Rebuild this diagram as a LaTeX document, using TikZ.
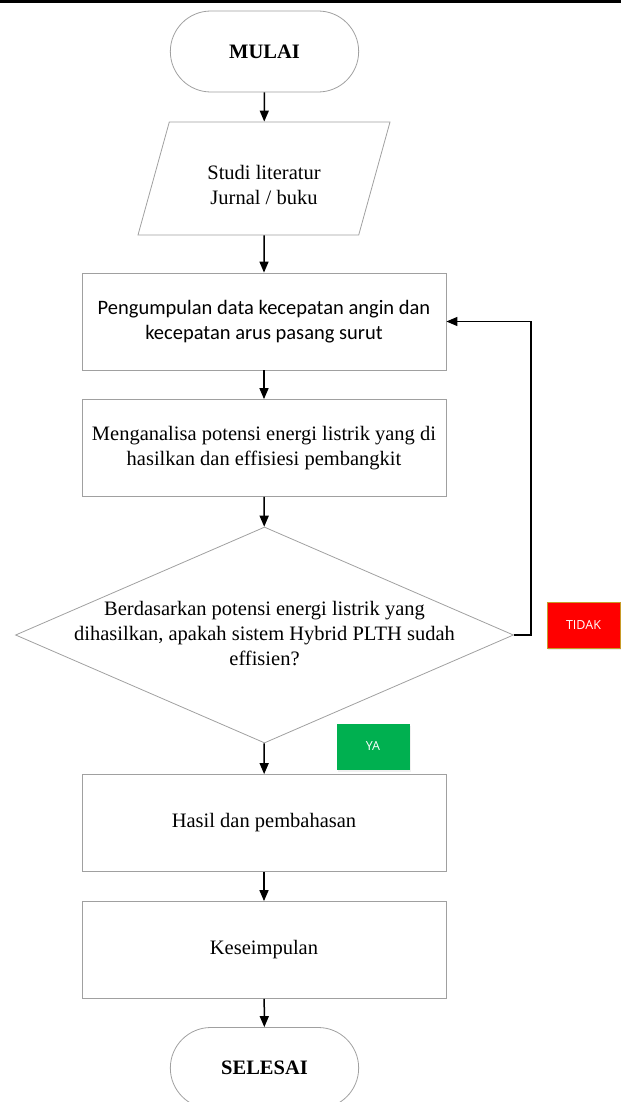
\documentclass[tikz,border=0pt]{standalone}
\usepackage{fontspec}
\setmainfont{Liberation Serif}
\newfontfamily\calibri{Carlito}
\newfontfamily\labelfont{Open Sans}
\usetikzlibrary{shapes.geometric,shapes.misc,arrows.meta,shadows}

\definecolor{garis}{RGB}{160,160,160}
\definecolor{tidakred}{RGB}{255,0,0}
\definecolor{tidakgold}{RGB}{200,155,40}
\definecolor{yagreen}{RGB}{0,176,80}

\begin{document}
\begin{tikzpicture}[x=1pt,y=-1pt,
  >={Triangle[length=11pt,width=9pt]},
  every node/.style={font=\fontsize{20.5}{25}\selectfont, align=center},
  terminal/.style={rounded rectangle, draw=garis, line width=0.8pt,
    minimum width=195pt, minimum height=81pt,
    font=\fontsize{20.5}{25}\selectfont\bfseries},
  proses/.style={rectangle, draw=garis, line width=0.8pt,
    minimum width=364pt, minimum height=97pt},
  masukan/.style={trapezium, trapezium left angle=62, trapezium right angle=118,
    trapezium stretches body, draw=garis, line width=0.8pt,
    minimum width=252pt, minimum height=113pt},
  keputusan/.style={diamond, draw=garis, line width=0.8pt, inner sep=0pt,
    minimum width=498pt, minimum height=216pt},
  pilihan/.style={rectangle, text=white, minimum width=73pt, minimum height=46pt,
    font=\labelfont\fontsize{12.5}{15}\selectfont},
  alur/.style={->, line width=1.5pt}]
\useasboundingbox (0,0) rectangle (621,1102);
\draw[line width=3pt] (0,1.5) -- (621,1.5);

% urutan langkah
\node[terminal] (mulai) at (264.5,51.5) {MULAI};
\node[masukan] (studi) at (264,178.5) {\rule{0pt}{27pt}Studi literatur\\Jurnal / buku};
\node[proses, font=\calibri\fontsize{20.5}{25}\selectfont] (data) at (264,321.5)
  {Pengumpulan data kecepatan angin dan\\kecepatan arus pasang surut};
\node[proses] (analisa) at (264,448)
  {Menganalisa potensi energi listrik yang di\\hasilkan dan effisiesi pembangkit};
\node[keputusan] (cek) at (264.5,635) {};
\node (cektext) at (264.5,634)
  {Berdasarkan potensi energi listrik yang\\dihasilkan, apakah sistem Hybrid PLTH sudah\\effisien?};
\node[proses] (hasil) at (264,823) {\raisebox{-2pt}{Hasil dan pembahasan}};
\node[proses] (simpul) at (264,950) {\raisebox{-2pt}{Keseimpulan}};
\node[terminal] (selesai) at (264.5,1068) {SELESAI};

% label pilihan
\node[pilihan, fill=tidakred, draw=tidakgold, line width=0.8pt,
  drop shadow={opacity=0.15,shadow xshift=1pt,shadow yshift=-2pt}] (tidak) at (583.5,625) {TIDAK};
\node[pilihan, fill=yagreen,
  drop shadow={opacity=0.12,shadow xshift=1pt,shadow yshift=-2pt}] (ya) at (373,746.5) {YA};

% panah
\draw[alur] (mulai) -- (studi);
\draw[alur] (studi) -- (data);
\draw[alur] (data) -- (analisa);
\draw[alur] (analisa) -- (cek);
\draw[alur] (cek) -- (hasil);
\draw[alur] (hasil) -- (simpul);
\draw[alur] (simpul) -- (selesai);
\coordinate (belok) at (531,321.5);
\draw[alur] (cek.east) -| (belok) -- (data.east);
\end{tikzpicture}
\end{document}
